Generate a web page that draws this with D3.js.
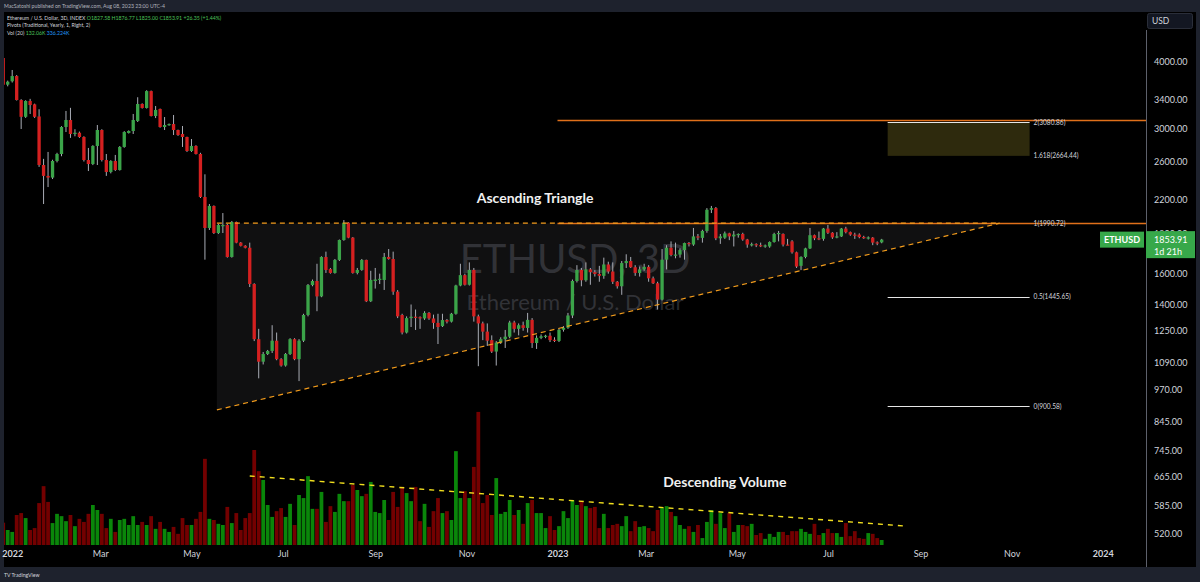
<!DOCTYPE html>
<html><head><meta charset="utf-8">
<script src="https://cdn.jsdelivr.net/npm/d3@7"></script>
<style>
html,body{margin:0;padding:0;background:#1e222d;overflow:hidden;}
svg{display:block;font-family:Lato,"Noto Sans",sans-serif;}
</style></head><body>
<svg id="c" width="1200" height="582"></svg>
<script>
// ---------------- DATA ----------------
const dates = ["2021-12-26","2021-12-29",
"2022-01-01","2022-01-04","2022-01-07","2022-01-10","2022-01-13","2022-01-16","2022-01-19","2022-01-22","2022-01-25","2022-01-28","2022-01-31",
"2022-02-03","2022-02-06","2022-02-09","2022-02-12","2022-02-15","2022-02-18","2022-02-21","2022-02-24","2022-02-27",
"2022-03-02","2022-03-05","2022-03-08","2022-03-11","2022-03-14","2022-03-17","2022-03-20","2022-03-23","2022-03-26","2022-03-29",
"2022-04-01","2022-04-04","2022-04-07","2022-04-10","2022-04-13","2022-04-16","2022-04-19","2022-04-22","2022-04-25","2022-04-28",
"2022-05-01","2022-05-04","2022-05-07","2022-05-10","2022-05-13","2022-05-16","2022-05-19","2022-05-22","2022-05-25","2022-05-28","2022-05-31",
"2022-06-03","2022-06-06","2022-06-09","2022-06-12","2022-06-15","2022-06-18","2022-06-21","2022-06-24","2022-06-27","2022-06-30",
"2022-07-03","2022-07-06","2022-07-09","2022-07-12","2022-07-15","2022-07-18","2022-07-21","2022-07-24","2022-07-27","2022-07-30",
"2022-08-02","2022-08-05","2022-08-08","2022-08-11","2022-08-14","2022-08-17","2022-08-20","2022-08-23","2022-08-26","2022-08-29",
"2022-09-01","2022-09-04","2022-09-07","2022-09-10","2022-09-13","2022-09-16","2022-09-19","2022-09-22","2022-09-25","2022-09-28",
"2022-10-01","2022-10-04","2022-10-07","2022-10-10","2022-10-13","2022-10-16","2022-10-19","2022-10-22","2022-10-25","2022-10-28","2022-10-31",
"2022-11-03","2022-11-06","2022-11-09","2022-11-12","2022-11-15","2022-11-18","2022-11-21","2022-11-24","2022-11-27","2022-11-30",
"2022-12-03","2022-12-06","2022-12-09","2022-12-12","2022-12-15","2022-12-18","2022-12-21","2022-12-24","2022-12-27","2022-12-30",
"2023-01-02","2023-01-05","2023-01-08","2023-01-11","2023-01-14","2023-01-17","2023-01-20","2023-01-23","2023-01-26","2023-01-29",
"2023-02-01","2023-02-04","2023-02-07","2023-02-10","2023-02-13","2023-02-16","2023-02-19","2023-02-22","2023-02-25","2023-02-28",
"2023-03-03","2023-03-06","2023-03-09","2023-03-12","2023-03-15","2023-03-18","2023-03-21","2023-03-24","2023-03-27","2023-03-30",
"2023-04-02","2023-04-05","2023-04-08","2023-04-11","2023-04-14","2023-04-17","2023-04-20","2023-04-23","2023-04-26","2023-04-29",
"2023-05-02","2023-05-05","2023-05-08","2023-05-11","2023-05-14","2023-05-17","2023-05-20","2023-05-23","2023-05-26","2023-05-29",
"2023-06-01","2023-06-04","2023-06-07","2023-06-10","2023-06-13","2023-06-16","2023-06-19","2023-06-22","2023-06-25","2023-06-28",
"2023-07-01","2023-07-04","2023-07-07","2023-07-10","2023-07-13","2023-07-16","2023-07-19","2023-07-22","2023-07-25","2023-07-28","2023-07-31",
"2023-08-03","2023-08-06"];

const opens = [4070,3626,3680,3764,3393,3155,3379,3330,3160,2561,2443,2425,2606,2686,3019,3112,2929,2945,2891,2617,2572,2781,2980,2617,2485,2606,2506,2769,2942,2967,3099,3335,3278,3527,3166,3264,3019,3045,3058,2980,2929,2891,2721,2781,2686,2230,1950,2145,1908,1972,1975,1720,2001,1830,1805,1790,1530,1205,1093,1130,1145,1197,1105,1075,1130,1205,1105,1197,1338,1523,1550,1450,1720,1632,1605,1698,1851,1995,1870,1605,1626,1698,1420,1550,1560,1557,1720,1705,1480,1338,1240,1320,1328,1325,1318,1350,1318,1293,1275,1309,1300,1345,1520,1590,1525,1626,1330,1290,1245,1200,1142,1187,1205,1218,1295,1260,1280,1265,1310,1185,1212,1220,1223,1202,1196,1255,1266,1335,1550,1626,1555,1630,1610,1598,1585,1665,1615,1545,1515,1675,1690,1645,1605,1630,1648,1568,1535,1430,1700,1790,1735,1738,1772,1827,1815,1880,1868,1925,2110,2125,1865,1870,1905,1880,1895,1900,1855,1808,1818,1810,1806,1800,1835,1900,1900,1815,1840,1755,1655,1720,1785,1890,1865,1860,1945,1910,1875,1880,1945,1915,1895,1895,1875,1870,1870,1832,1832];
const highs = [4090,3690,3864,3780,3405,3390,3410,3340,3260,2630,2710,2620,2700,3030,3236,3280,2990,2960,2900,2757,2790,3045,2990,2686,2615,2675,2780,2965,2975,3194,3434,3345,3540,3535,3306,3270,3152,3065,3180,2985,3032,2895,2866,2790,2700,2460,2163,2150,1985,2080,1985,2010,2005,1835,1810,1830,1535,1260,1140,1150,1280,1240,1110,1135,1210,1210,1205,1345,1530,1560,1670,1725,1760,1640,1705,1855,2018,2000,1875,1640,1705,1700,1620,1640,1600,1750,1780,1760,1490,1345,1330,1400,1370,1330,1360,1355,1340,1345,1345,1315,1350,1525,1670,1600,1680,1640,1340,1300,1290,1225,1195,1215,1254,1305,1305,1290,1300,1350,1320,1225,1230,1228,1240,1215,1262,1275,1350,1560,1660,1640,1680,1640,1625,1655,1715,1685,1680,1550,1690,1740,1720,1660,1650,1670,1660,1580,1545,1780,1810,1840,1830,1785,1830,1835,1950,1900,1935,2125,2145,2135,1900,1920,1910,1925,1905,1910,1860,1830,1825,1830,1815,1840,1910,1925,1905,1860,1850,1760,1725,1790,1950,1895,1920,1950,1975,1915,1915,1950,1960,1920,1910,1905,1885,1880,1875,1840,1860];
const lows = [3610,3600,3660,3385,2993,3140,3194,3140,2540,2163,2328,2410,2590,2660,2954,2880,2900,2880,2600,2495,2560,2561,2600,2443,2470,2495,2500,2760,2935,2929,3085,3270,3270,3160,3138,3010,2980,3035,2916,2905,2769,2710,2710,2680,2220,1700,1933,1900,1900,1908,1715,1715,1825,1800,1785,1510,1195,1017,1080,1125,1135,1100,1070,1070,1125,1100,1005,1190,1330,1515,1360,1445,1605,1600,1600,1690,1845,1865,1600,1595,1620,1415,1415,1500,1530,1491,1700,1460,1320,1230,1235,1270,1254,1260,1310,1310,1260,1180,1270,1290,1295,1340,1515,1520,1520,1300,1072,1200,1170,1135,1075,1180,1160,1210,1240,1225,1250,1240,1160,1155,1205,1210,1190,1190,1190,1245,1260,1320,1540,1515,1545,1525,1580,1545,1565,1600,1530,1500,1460,1640,1640,1585,1580,1620,1545,1530,1370,1425,1630,1725,1710,1715,1700,1800,1805,1850,1830,1910,2080,1850,1820,1860,1850,1800,1870,1845,1790,1800,1795,1795,1790,1790,1830,1840,1800,1810,1745,1640,1626,1710,1780,1850,1850,1845,1900,1860,1865,1875,1905,1885,1860,1865,1860,1855,1810,1810,1825];
const closes = [3625,3673,3764,3393,3155,3379,3320,3155,2561,2443,2425,2606,2686,3019,3112,2929,2945,2891,2617,2572,2781,2980,2617,2485,2606,2506,2769,2954,2967,3112,3335,3278,3527,3166,3250,3019,3045,3058,2980,2916,2891,2721,2781,2686,2230,1950,2145,1908,1975,1975,1720,2001,1830,1805,1790,1530,1205,1093,1130,1145,1197,1105,1075,1130,1205,1105,1197,1338,1523,1550,1450,1720,1626,1605,1698,1851,1995,1870,1605,1626,1698,1420,1557,1560,1565,1720,1705,1480,1330,1240,1320,1328,1325,1320,1350,1318,1293,1270,1309,1300,1345,1520,1590,1525,1626,1330,1290,1245,1197,1142,1187,1205,1218,1295,1260,1280,1265,1310,1185,1212,1220,1223,1200,1196,1255,1266,1335,1550,1626,1555,1630,1610,1598,1585,1665,1615,1545,1515,1675,1690,1645,1605,1630,1648,1568,1535,1430,1700,1790,1735,1738,1772,1827,1822,1880,1872,1925,2110,2125,1865,1880,1905,1880,1895,1900,1855,1815,1818,1810,1806,1808,1835,1900,1908,1815,1812,1755,1650,1720,1785,1890,1865,1860,1945,1910,1872,1880,1945,1915,1895,1890,1875,1870,1872,1830,1828,1853.91];
const volumes = [580,390,340,780,830,700,390,440,1090,1530,1120,570,810,750,620,780,490,680,600,810,1040,910,810,440,680,340,650,680,520,750,520,600,520,750,420,600,420,340,470,290,700,520,520,680,860,2240,680,650,550,520,990,570,830,390,700,830,2470,1920,1690,1040,730,880,960,730,1070,520,1300,1220,1790,940,940,1380,600,1010,860,1330,1140,1140,1560,1430,1270,1330,1640,860,830,1170,650,1380,990,1510,1350,1140,1510,620,1070,470,880,1220,830,880,650,2440,1220,1400,1220,2030,3460,1090,1300,780,1740,810,860,1170,780,910,550,1090,1170,830,830,440,750,390,490,880,700,1170,1040,1140,1010,960,990,440,810,440,520,550,490,750,360,620,470,490,440,360,910,960,1010,860,750,520,420,490,340,520,180,600,910,550,830,440,830,340,520,520,490,550,260,310,160,290,210,340,340,260,360,360,420,340,290,550,260,310,420,310,310,210,570,230,360,180,160,310,290,180,130];

const priceTicks = [4000,3400,3000,2600,2200,1900,1600,1400,1250,1090,970,845,745,665,585,520];
const timeTicks = ["2022-01-01","2022-03-01","2022-05-01","2022-07-01","2022-09-01","2022-11-01","2023-01-01","2023-03-01","2023-05-01","2023-07-01","2023-09-01","2023-11-01","2024-01-01"];
const timeLabels = ["2022","Mar","May","Jul","Sep","Nov","2023","Mar","May","Jul","Sep","Nov","2024"];

const fibLevels = ["2","1.618","1","0.5","0"];
const fibPrices = [3080.86,2664.44,1990.72,1445.65,900.58];
const fibSpan = ["2023-08-10","2023-11-13"];
const rayStart = "2023-01-01";
const rayPrices = [3100,1990.72];
const triDates = ["2022-05-18","2023-10-24"];
const triPrices = [1990.72,887];
const volLineDates = ["2022-06-09","2023-08-21"];
const volLineValues = [1794,494];
const lastPrice = 1853.91;

// ---------------- SCALES ----------------
const P = d => new Date(d + "T00:00:00Z");
const W = 1200, H = 582;
const x = d3.scaleUtc().domain([P("2022-01-01"), P("2024-01-01")]).range([12.2, 1102.8]);
const y = d3.scaleLog().domain([520, 4000]).range([533.3, 62]);
const yv = d3.scaleLinear().domain([0, 3500]).range([545, 545 - 3500 / 26]);
const step = x(P("2022-01-04")) - x(P("2022-01-01"));
const bodyW = step * 0.74, volW = step * 0.84;

const svg = d3.select("#c");
// frame
svg.append("rect").attr("width", W).attr("height", H).attr("fill", "#1e222d");
svg.append("rect").attr("x", 4).attr("y", 12).attr("width", 1192).attr("height", 555).attr("fill", "#000");

const defs = svg.append("defs");
defs.append("clipPath").attr("id", "plot").append("rect").attr("x", 4).attr("y", 12).attr("width", 1142).attr("height", 533);

const plot = svg.append("g").attr("clip-path", "url(#plot)");

// watermark
plot.append("text").attr("x", 575).attr("y", 273).attr("text-anchor", "middle")
  .attr("font-size", 40).attr("fill", "#27282c").text("ETHUSD, 3D");
plot.append("text").attr("x", 575).attr("y", 310).attr("text-anchor", "middle")
  .attr("font-size", 22).attr("fill", "#27282c").text("Ethereum / U.S. Dollar");

// triangle fill
const tx0 = x(P(triDates[0])), tx1 = x(P(triDates[1]));
const tyTop = y(triPrices[0]), tyBot = y(triPrices[1]);
plot.append("path").attr("d", `M${tx0},${tyTop}L${tx1},${tyTop}L${tx0},${tyBot}Z`)
  .attr("fill", "#787b86").attr("fill-opacity", 0.13);

// fib box
const fx0 = x(P(fibSpan[0])), fx1 = x(P(fibSpan[1]));
plot.append("rect").attr("x", fx0).attr("y", y(fibPrices[0])).attr("width", fx1 - fx0)
  .attr("height", y(fibPrices[1]) - y(fibPrices[0])).attr("fill", "#2e2a0d");
// fib lines
fibPrices.forEach((p, i) => {
  if (i === 1) return;
  plot.append("line").attr("x1", fx0).attr("x2", fx1).attr("y1", Math.round(y(p)) + 0.5).attr("y2", Math.round(y(p)) + 0.5)
    .attr("stroke", "#e6e6e6").attr("stroke-width", 1);
});

// rays
rayPrices.forEach(p => {
  const yy = Math.floor(y(p)) + 0.5;
  plot.append("line").attr("x1", x(P(rayStart))).attr("x2", 1146)
    .attr("y1", yy).attr("y2", yy)
    .attr("stroke", "#e0701a").attr("stroke-width", 1.3);
});

// fib labels
fibPrices.forEach((p, i) => {
  svg.append("text").attr("x", fx1 + 4).attr("y", y(p)).attr("dy", "0.35em")
    .attr("font-size", 6.6).attr("fill", "#d1d4dc").text(`${fibLevels[i]}(${p.toFixed(2)})`);
});

// candles
const candles = dates.map((d, i) => ({d: P(d), o: opens[i], h: highs[i], l: lows[i], c: closes[i], v: volumes[i]}));
const cg = plot.append("g");
cg.selectAll("line.w").data(candles).join("line")
  .attr("x1", d => x(d.d)).attr("x2", d => x(d.d))
  .attr("y1", d => y(d.h)).attr("y2", d => y(d.l))
  .attr("stroke", "#a9acb5").attr("stroke-width", 1);
cg.selectAll("rect.b").data(candles).join("rect")
  .attr("x", d => x(d.d) - bodyW / 2).attr("width", bodyW)
  .attr("y", d => y(Math.max(d.o, d.c)))
  .attr("height", d => Math.max(1.2, Math.abs(y(d.o) - y(d.c))))
  .attr("fill", d => d.c >= d.o ? "#3ba449" : "#d42020");

// volume
plot.append("g").selectAll("rect").data(candles).join("rect")
  .attr("x", d => x(d.d) - volW / 2).attr("width", volW)
  .attr("y", d => yv(d.v)).attr("height", d => yv(0) - yv(d.v))
  .attr("fill", d => d.c >= d.o ? "#0a860a" : "#730000");

// triangle dashed lines
plot.append("line").attr("x1", tx0).attr("x2", tx1).attr("y1", tyTop).attr("y2", tyTop)
  .attr("stroke", "#f39c1c").attr("stroke-width", 1.2).attr("stroke-dasharray", "5,4");
plot.append("line").attr("x1", tx0).attr("x2", tx1).attr("y1", tyBot).attr("y2", tyTop)
  .attr("stroke", "#f39c1c").attr("stroke-width", 1.2).attr("stroke-dasharray", "5,4");
// volume dashed line
plot.append("line").attr("x1", x(P(volLineDates[0]))).attr("x2", x(P(volLineDates[1])))
  .attr("y1", yv(volLineValues[0])).attr("y2", yv(volLineValues[1]))
  .attr("stroke", "#f2df1e").attr("stroke-width", 1.4).attr("stroke-dasharray", "5,5");

// annotation texts
svg.append("text").attr("x", x(P("2022-12-17"))).attr("y", y(2215)).attr("dy", "0.35em")
  .attr("text-anchor", "middle").attr("font-size", 14).attr("font-weight", 700).attr("fill", "#f0f0f0")
  .text("Ascending Triangle");
svg.append("text").attr("x", x(P("2023-04-23"))).attr("y", yv(1638)).attr("dy", "0.35em")
  .attr("text-anchor", "middle").attr("font-size", 14).attr("font-weight", 700).attr("fill", "#f0f0f0")
  .text("Descending Volume");

// axes
svg.append("line").attr("x1", 1146.5).attr("x2", 1146.5).attr("y1", 30).attr("y2", 567).attr("stroke", "#5d606b");
const ya = svg.append("g").attr("transform", "translate(1150,0)")
  .call(d3.axisRight(y).tickValues(priceTicks).tickSize(0).tickFormat(d3.format(".2f")));
ya.select(".domain").remove();
ya.selectAll("text").attr("x", 4).attr("font-size", 9).attr("font-family", "Lato, sans-serif").attr("fill", "#d1d4dc");

const xa = svg.append("g").attr("transform", "translate(0,545)")
  .call(d3.axisBottom(x).tickValues(timeTicks.map(P)).tickSize(0).tickFormat((d, i) => timeLabels[i]));
xa.select(".domain").remove();
xa.selectAll("text").attr("y", 6).attr("font-size", 9).attr("font-family", "Lato, sans-serif").attr("fill", "#d1d4dc")
  .attr("font-weight", (d, i) => /^\d{4}$/.test(timeLabels[i]) ? 700 : 400);

// USD box
svg.append("rect").attr("x", 1147.5).attr("y", 13.5).attr("width", 45).attr("height", 15).attr("rx", 2)
  .attr("fill", "#131722").attr("stroke", "#2a2e39");
svg.append("text").attr("x", 1152).attr("y", 24).attr("font-size", 8.5).attr("fill", "#d1d4dc").text("USD");

// price labels
const ly = y(lastPrice);
svg.append("rect").attr("x", 1100).attr("y", ly - 8).attr("width", 44).attr("height", 16).attr("fill", "#37a84a");
svg.append("text").attr("x", 1122).attr("y", ly).attr("dy", "0.35em").attr("text-anchor", "middle")
  .attr("font-size", 9).attr("font-weight", 700).attr("fill", "#fff").text("ETHUSD");
svg.append("rect").attr("x", 1146).attr("y", ly - 8.5).attr("width", 49).attr("height", 27).attr("fill", "#37a84a");
svg.append("text").attr("x", 1154).attr("y", ly).attr("dy", "0.35em").attr("font-size", 9).attr("fill", "#fff").text(lastPrice.toFixed(2));
svg.append("text").attr("x", 1154).attr("y", ly + 12).attr("dy", "0.35em").attr("font-size", 9).attr("fill", "#fff").text("1d 21h");

// header
svg.append("text").attr("x", 4).attr("y", 8).attr("font-size", 5.2).attr("fill", "#b2b5be")
  .text("MacSatoshi published on TradingView.com, Aug 08, 2023 23:00 UTC-4");
const h2 = svg.append("text").attr("x", 7).attr("y", 19.5).attr("font-size", 5.2).attr("fill", "#d1d4dc");
h2.append("tspan").text("Ethereum / U.S. Dollar, 3D, INDEX  ");
h2.append("tspan").attr("fill", "#4cc35a").text("O1827.58  H1876.77  L1825.00  C1853.91  +26.35 (+1.44%)");
svg.append("text").attr("x", 7).attr("y", 27).attr("font-size", 5.2).attr("fill", "#d1d4dc")
  .text("Pivots (Traditional, Yearly, 1, Right, 2)");
const h4 = svg.append("text").attr("x", 7).attr("y", 34.5).attr("font-size", 5.2).attr("fill", "#d1d4dc");
h4.append("tspan").text("Vol (20)  ");
h4.append("tspan").attr("fill", "#4cc35a").text("132.06K  ");
h4.append("tspan").attr("fill", "#2196f3").text("336.224K");

// footer
svg.append("text").attr("x", 4).attr("y", 577).attr("font-size", 5.2).attr("fill", "#d1d4dc").text("TV TradingView");
</script>
</body></html>
